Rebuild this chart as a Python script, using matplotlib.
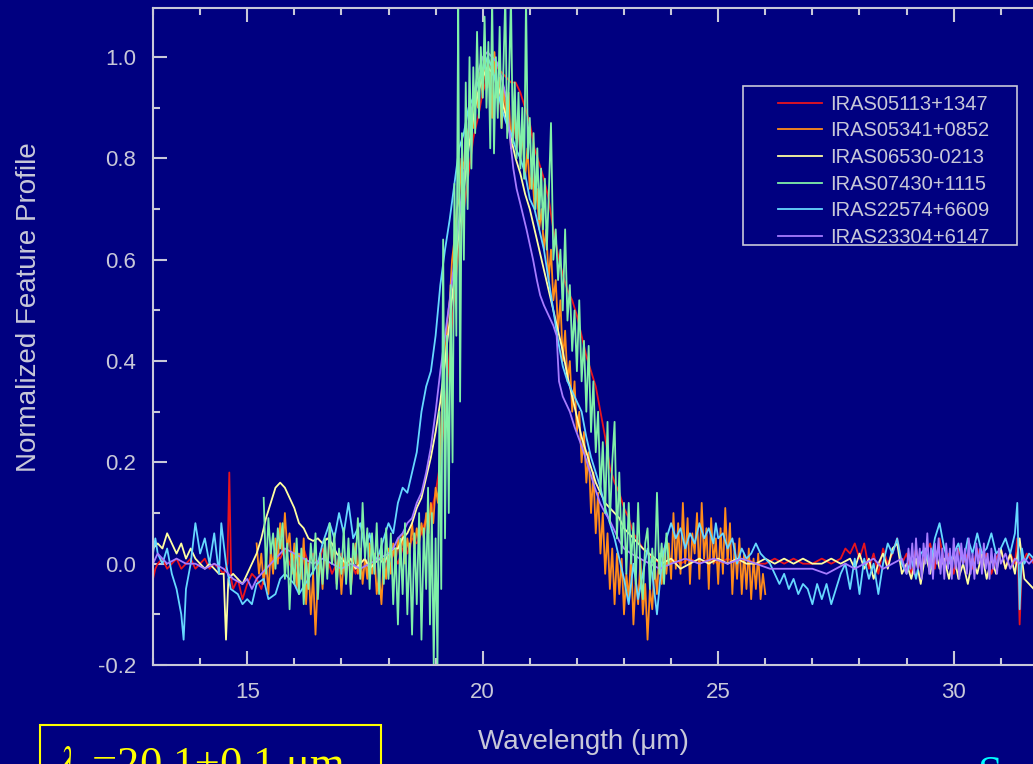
import matplotlib
matplotlib.use('Agg')
import matplotlib.pyplot as plt
from matplotlib.ticker import MultipleLocator
from matplotlib.patches import Rectangle

plt.rcParams['font.family'] = ['Liberation Sans', 'DejaVu Sans']
plt.rcParams['axes.unicode_minus'] = False
plt.rcParams['mathtext.fontset'] = 'stix'

NAVY = '#000080'
GRAY = '#c8c8d8'

# IRAS05113+1347
red_wl = [13.00, 13.05, 13.10, 13.20, 13.30, 13.40, 13.50, 13.60, 13.70, 13.80, 13.90, 14.00,
          14.10, 14.20, 14.30, 14.40, 14.50, 14.58, 14.62, 14.66, 14.70, 14.80, 14.90, 15.00,
          15.10, 15.20, 15.30, 15.40, 15.50, 15.60, 15.70, 15.80, 15.90, 16.00, 16.10, 16.20,
          16.30, 16.40, 16.50, 16.60, 16.70, 16.80, 16.90, 17.00, 17.10, 17.20, 17.30, 17.40,
          17.50, 17.60, 17.70, 17.80, 17.90, 18.00, 18.10, 18.20, 18.30, 18.40, 18.50, 18.60,
          18.70, 18.80, 18.90, 19.00, 19.10, 19.20, 19.30, 19.40, 19.50, 19.60, 19.70, 19.80,
          19.90, 20.00, 20.10, 20.20, 20.30, 20.40, 20.50, 20.60, 20.70, 20.80, 20.90, 21.00,
          21.10, 21.20, 21.30, 21.40, 21.50, 21.60, 21.70, 21.80, 21.90, 22.00, 22.10, 22.20,
          22.30, 22.40, 22.50, 22.60, 22.70, 22.80, 22.90, 23.00, 23.10, 23.20, 23.30, 23.40,
          23.50, 23.60, 23.80, 24.00, 24.20, 24.40, 24.60, 24.80, 25.00, 25.20, 25.40, 25.60,
          25.80, 26.00, 26.20, 26.40, 26.60, 26.80, 27.00, 27.20, 27.40, 27.60, 27.70, 27.80,
          27.90, 28.00, 28.10, 28.20, 28.30, 28.40, 28.50, 28.60, 28.70, 28.80, 28.90, 29.00,
          29.10, 29.20, 29.30, 29.40, 29.50, 29.60, 29.70, 29.80, 29.90, 30.00, 30.10, 30.20,
          30.30, 30.40, 30.50, 30.60, 30.70, 30.80, 30.90, 31.00, 31.10, 31.20, 31.30, 31.35,
          31.40, 31.45, 31.55, 31.70]
red_val = [-0.03, -0.01, 0.00, 0.01, -0.01, 0.00, 0.01, -0.01, 0.00, 0.01, -0.01, 0.00,
           0.01, -0.01, 0.00, -0.01, -0.02, 0.00, 0.18, -0.03, -0.05, -0.03, -0.07, -0.04,
           -0.02, -0.03, -0.05, -0.01, 0.00, 0.02, 0.01, 0.03, 0.00, -0.02, 0.01, 0.03,
           0.00, 0.02, -0.01, 0.03, 0.01, -0.02, 0.00, 0.02, -0.01, 0.01, -0.02, 0.00,
           0.01, -0.01, 0.00, 0.02, 0.00, 0.01, 0.02, 0.00, 0.03, 0.02, 0.05, 0.04,
           0.06, 0.09, 0.10, 0.14, 0.20, 0.30, 0.42, 0.53, 0.63, 0.70, 0.77, 0.84,
           0.88, 0.93, 0.96, 1.00, 0.98, 0.97, 0.96, 0.95, 0.95, 0.93, 0.90, 0.87,
           0.82, 0.79, 0.76, 0.72, 0.66, 0.61, 0.57, 0.54, 0.52, 0.49, 0.45, 0.41,
           0.38, 0.35, 0.30, 0.25, 0.19, 0.16, 0.14, 0.11, 0.09, 0.06, 0.045, 0.03,
           0.02, 0.01, 0.00, 0.01, 0.00, 0.01, 0.00, 0.01, 0.00, 0.01, 0.00, 0.01,
           0.00, 0.00, 0.01, 0.00, 0.01, 0.00, 0.00, 0.01, 0.00, 0.01, 0.03, 0.02,
           0.04, 0.01, 0.04, -0.01, 0.02, -0.02, 0.03, 0.00, 0.02, 0.05, 0.00, 0.02,
           -0.02, 0.03, -0.01, 0.02, 0.04, -0.01, 0.05, 0.00, 0.02, -0.02, 0.03, 0.00,
           0.02, -0.01, 0.03, 0.00, 0.02, -0.02, 0.01, 0.03, -0.01, 0.02, 0.00, 0.05,
           -0.12, 0.00, 0.02, 0.00]

# IRAS05341+0852
orange_wl = [15.20, 15.25, 15.30, 15.35, 15.40, 15.45, 15.50, 15.55, 15.60, 15.65, 15.70, 15.75,
             15.80, 15.85, 15.90, 15.95, 16.00, 16.05, 16.10, 16.15, 16.20, 16.25, 16.30, 16.35,
             16.40, 16.45, 16.50, 16.55, 16.60, 16.65, 16.70, 16.75, 16.80, 16.85, 16.90, 16.95,
             17.00, 17.05, 17.10, 17.15, 17.20, 17.25, 17.30, 17.35, 17.40, 17.45, 17.50, 17.55,
             17.60, 17.65, 17.70, 17.75, 17.80, 17.85, 17.90, 17.95, 18.00, 18.05, 18.10, 18.15,
             18.20, 18.25, 18.30, 18.35, 18.40, 18.45, 18.50, 18.55, 18.60, 18.65, 18.70, 18.75,
             18.80, 18.85, 18.90, 18.95, 19.00, 19.05, 19.10, 19.15, 19.20, 19.25, 19.30, 19.35,
             19.40, 19.45, 19.50, 19.55, 19.60, 19.65, 19.70, 19.75, 19.80, 19.85, 19.90, 19.95,
             20.00, 20.05, 20.10, 20.15, 20.20, 20.25, 20.30, 20.35, 20.40, 20.45, 20.50, 20.55,
             20.60, 20.65, 20.70, 20.75, 20.80, 20.85, 20.90, 20.95, 21.00, 21.05, 21.10, 21.15,
             21.20, 21.25, 21.30, 21.35, 21.40, 21.45, 21.50, 21.55, 21.60, 21.65, 21.70, 21.75,
             21.80, 21.85, 21.90, 21.95, 22.00, 22.05, 22.10, 22.15, 22.20, 22.25, 22.30, 22.35,
             22.40, 22.45, 22.50, 22.55, 22.60, 22.65, 22.70, 22.75, 22.80, 22.85, 22.90, 22.95,
             23.00, 23.05, 23.10, 23.15, 23.20, 23.25, 23.30, 23.35, 23.40, 23.45, 23.50, 23.55,
             23.60, 23.65, 23.70, 23.75, 23.80, 23.85, 23.90, 23.95, 24.00, 24.05, 24.10, 24.15,
             24.20, 24.25, 24.30, 24.35, 24.40, 24.45, 24.50, 24.55, 24.60, 24.65, 24.70, 24.75,
             24.80, 24.85, 24.90, 24.95, 25.00, 25.05, 25.10, 25.15, 25.20, 25.25, 25.30, 25.35,
             25.40, 25.45, 25.50, 25.55, 25.60, 25.65, 25.70, 25.75, 25.80, 25.85, 25.90, 25.95,
             26.00]
orange_val = [0.04, -0.02, 0.02, -0.04, 0.01, -0.06, 0.03, -0.02, 0.05, 0.00, 0.08, 0.02,
              0.10, 0.03, 0.06, -0.02, 0.04, -0.05, 0.02, -0.03, 0.05, -0.08, 0.00, -0.10,
              -0.02, -0.14, -0.03, 0.02, -0.05, 0.04, -0.02, 0.06, 0.00, 0.04, -0.04, 0.02,
              -0.06, 0.01, -0.03, 0.03, -0.05, 0.00, 0.04, -0.02, 0.03, -0.04, 0.01, -0.03,
              0.04, -0.02, 0.02, -0.06, -0.02, -0.08, 0.01, -0.03, 0.03, -0.02, 0.04, 0.00,
              0.05, 0.01, 0.06, 0.00, 0.05, 0.02, 0.08, 0.03, 0.07, 0.04, 0.08, 0.05,
              0.10, 0.06, 0.12, 0.08, 0.15, 0.12, 0.22, 0.35, 0.40, 0.48, 0.52, 0.60,
              0.64, 0.70, 0.72, 0.80, 0.78, 0.86, 0.84, 0.90, 0.86, 0.94, 0.90, 0.97,
              0.92, 1.00, 0.94, 0.98, 0.88, 1.01, 0.92, 0.96, 0.86, 0.94, 0.88, 0.93,
              0.82, 0.90, 0.84, 0.88, 0.80, 0.85, 0.76, 0.82, 0.74, 0.78, 0.70, 0.74,
              0.66, 0.70, 0.62, 0.66, 0.56, 0.62, 0.52, 0.56, 0.46, 0.52, 0.40, 0.46,
              0.36, 0.40, 0.30, 0.36, 0.26, 0.30, 0.20, 0.26, 0.16, 0.22, 0.10, 0.18,
              0.06, 0.14, 0.02, 0.10, -0.02, 0.06, -0.05, 0.03, -0.08, 0.02, -0.06, 0.01,
              -0.10, -0.02, -0.07, 0.02, -0.12, -0.03, -0.08, 0.01, -0.10, -0.04, -0.15, -0.05,
              -0.09, 0.00, -0.06, 0.02, -0.04, 0.03, -0.02, 0.04, -0.03, 0.10, -0.01, 0.08,
              -0.02, 0.12, 0.00, 0.09, -0.04, 0.06, 0.02, 0.10, -0.03, 0.12, 0.01, 0.07,
              -0.05, 0.09, 0.00, 0.05, -0.04, 0.07, -0.02, 0.11, 0.00, 0.08, -0.06, 0.04,
              -0.03, 0.05, -0.06, 0.02, -0.05, 0.03, -0.07, 0.01, -0.05, 0.02, -0.07, -0.02,
              -0.06]

# IRAS06530-0213
yellow_wl = [13.00, 13.10, 13.20, 13.30, 13.40, 13.50, 13.60, 13.70, 13.80, 13.90, 14.00, 14.10,
             14.20, 14.30, 14.40, 14.50, 14.55, 14.60, 14.70, 14.80, 14.90, 15.00, 15.10, 15.20,
             15.30, 15.40, 15.50, 15.60, 15.70, 15.80, 15.90, 16.00, 16.10, 16.20, 16.30, 16.40,
             16.50, 16.60, 16.70, 16.80, 16.90, 17.00, 17.10, 17.20, 17.30, 17.40, 17.50, 17.60,
             17.70, 17.80, 17.90, 18.00, 18.10, 18.20, 18.30, 18.40, 18.50, 18.60, 18.70, 18.80,
             18.90, 19.00, 19.10, 19.20, 19.30, 19.40, 19.50, 19.60, 19.70, 19.80, 19.90, 20.00,
             20.10, 20.20, 20.30, 20.40, 20.50, 20.60, 20.70, 20.80, 20.90, 21.00, 21.10, 21.20,
             21.30, 21.40, 21.50, 21.60, 21.70, 21.80, 21.90, 22.00, 22.10, 22.20, 22.30, 22.40,
             22.50, 22.60, 22.70, 22.80, 22.90, 23.00, 23.20, 23.40, 23.60, 23.80, 24.00, 24.20,
             24.40, 24.60, 24.80, 25.00, 25.20, 25.40, 25.60, 25.80, 26.00, 26.20, 26.40, 26.60,
             26.80, 27.00, 27.20, 27.40, 27.60, 27.80, 27.90, 28.00, 28.10, 28.20, 28.30, 28.40,
             28.50, 28.60, 28.70, 28.80, 28.90, 29.00, 29.10, 29.20, 29.30, 29.40, 29.50, 29.60,
             29.70, 29.80, 29.90, 30.00, 30.10, 30.20, 30.30, 30.40, 30.50, 30.60, 30.70, 30.80,
             30.90, 31.00, 31.10, 31.20, 31.30, 31.40, 31.50, 31.60, 31.70]
yellow_val = [0.03, 0.04, 0.03, 0.06, 0.04, 0.02, 0.04, 0.01, 0.03, 0.01, 0.00, -0.01,
              0.00, -0.01, -0.02, -0.02, -0.15, -0.03, -0.02, -0.03, -0.04, -0.02, 0.00, 0.02,
              0.05, 0.09, 0.12, 0.15, 0.16, 0.15, 0.13, 0.11, 0.08, 0.07, 0.05, 0.045,
              0.05, 0.04, 0.05, 0.04, 0.02, 0.01, 0.00, 0.01, -0.01, 0.00, 0.01, -0.01,
              0.00, 0.01, 0.00, 0.02, 0.03, 0.03, 0.05, 0.06, 0.08, 0.11, 0.13, 0.17,
              0.21, 0.26, 0.32, 0.40, 0.48, 0.57, 0.66, 0.74, 0.82, 0.88, 0.93, 0.96,
              0.98, 0.97, 0.95, 0.92, 0.88, 0.84, 0.80, 0.77, 0.73, 0.70, 0.66, 0.62,
              0.58, 0.54, 0.50, 0.46, 0.42, 0.37, 0.33, 0.29, 0.25, 0.22, 0.19, 0.16,
              0.14, 0.12, 0.11, 0.10, 0.09, 0.07, 0.05, 0.03, 0.015, 0.00, 0.01, -0.01,
              0.00, 0.01, 0.00, 0.01, 0.00, 0.01, 0.00, 0.00, 0.01, 0.00, 0.01, 0.00,
              0.01, 0.00, 0.00, 0.01, 0.00, 0.01, -0.01, 0.02, -0.01, 0.01, -0.03, 0.00,
              0.02, -0.01, 0.03, 0.04, -0.02, 0.00, -0.03, 0.01, -0.04, 0.02, -0.02, 0.03,
              -0.01, 0.01, -0.03, 0.02, -0.03, 0.00, -0.04, 0.01, -0.02, 0.02, -0.03, 0.01,
              -0.02, 0.03, -0.01, 0.02, -0.02, 0.05, -0.03, -0.04, -0.05]

# IRAS07430+1115
green_wl = [15.35, 15.40, 15.45, 15.50, 15.55, 15.60, 15.65, 15.70, 15.75, 15.80, 15.85, 15.90,
            15.95, 16.00, 16.05, 16.10, 16.15, 16.20, 16.25, 16.30, 16.35, 16.40, 16.45, 16.50,
            16.55, 16.60, 16.65, 16.70, 16.75, 16.80, 16.85, 16.90, 16.95, 17.00, 17.05, 17.10,
            17.15, 17.20, 17.25, 17.30, 17.35, 17.40, 17.45, 17.50, 17.55, 17.60, 17.65, 17.70,
            17.75, 17.80, 17.85, 17.90, 17.95, 18.00, 18.05, 18.10, 18.15, 18.20, 18.25, 18.30,
            18.35, 18.40, 18.45, 18.50, 18.55, 18.60, 18.65, 18.70, 18.75, 18.80,
            18.84, 18.88, 18.92, 18.96, 19.00, 19.04, 19.08, 19.12, 19.16, 19.20, 19.24, 19.28,
            19.32, 19.36, 19.40, 19.44, 19.48, 19.52, 19.56, 19.60, 19.64, 19.68, 19.72, 19.76,
            19.80, 19.84, 19.88, 19.92, 19.96, 20.00, 20.04, 20.08, 20.12, 20.16, 20.20, 20.24,
            20.28, 20.32, 20.36, 20.40, 20.44, 20.48, 20.52, 20.56, 20.60, 20.64, 20.68, 20.72,
            20.76, 20.80, 20.84, 20.88, 20.92, 20.96, 21.00, 21.04, 21.08, 21.12, 21.16, 21.20,
            21.24, 21.28, 21.32, 21.36, 21.40, 21.45, 21.50,
            21.55, 21.60, 21.65, 21.70, 21.75, 21.80, 21.85, 21.90, 21.95, 22.00, 22.05, 22.10,
            22.15, 22.20, 22.25, 22.30, 22.35, 22.40, 22.45, 22.50, 22.55, 22.60, 22.65, 22.70,
            22.75, 22.80, 22.85, 22.90, 22.95, 23.00, 23.05, 23.10, 23.15, 23.20, 23.25, 23.30,
            23.35, 23.40, 23.45, 23.50, 23.55, 23.60, 23.65, 23.70, 23.75, 23.80, 23.85, 23.90,
            23.95]
green_val = [0.13, -0.02, 0.09, 0.02, 0.06, -0.01, 0.07, 0.03, 0.08, -0.03, 0.04, -0.09,
             0.02, -0.04, 0.05, -0.06, 0.03, -0.08, 0.01, -0.05, 0.04, -0.02, 0.06, -0.07,
             0.02, -0.04, 0.05, -0.03, 0.08, 0.00, 0.06, -0.05, 0.03, -0.02, 0.07, -0.04,
             0.05, -0.06, 0.04, 0.00, 0.09, -0.03, 0.12, 0.01, 0.07, -0.05, 0.06, -0.02,
             0.08, -0.06, 0.05, -0.04, 0.07, -0.03, 0.06, -0.08, 0.03, -0.12, 0.05, -0.06,
             0.08, -0.10, 0.04, -0.14, 0.06, -0.08, 0.10, -0.15, 0.07, -0.05,
             0.15, -0.12, 0.10, -0.20, 0.05, -0.20, 0.30, -0.05, 0.64, 0.05, 0.45, 0.10,
             0.55, 0.20, 0.75, 0.45, 1.12, 0.32, 0.85, 0.60, 0.95, 0.70, 1.00, 0.78,
             0.98, 0.85, 1.05, 0.88, 1.02, 0.92, 1.08, 0.90, 1.03, 0.82, 1.12, 0.81,
             1.00, 0.88, 1.06, 0.86, 0.98, 1.12, 0.84, 0.96, 1.12, 0.83, 0.95, 0.80,
             0.93, 0.78, 0.90, 0.76, 1.12, 0.80, 0.88, 0.74, 0.85, 0.70, 0.82, 0.68,
             0.78, 0.66, 0.76, 0.62, 0.72, 0.87, 0.60,
             0.66, 0.56, 0.62, 0.50, 0.66, 0.48, 0.55, 0.42, 0.50, 0.38, 0.52, 0.36,
             0.44, 0.30, 0.43, 0.26, 0.36, 0.22, 0.30, 0.14, 0.24, 0.10, 0.28, 0.08,
             0.20, 0.28, 0.05, 0.18, 0.02, 0.12, -0.02, 0.12, 0.00, 0.08, -0.04, 0.12,
             -0.02, -0.07, 0.04, 0.07, -0.05, 0.03, -0.03, 0.14, -0.02, 0.04, -0.04, 0.06,
             0.00]

# IRAS22574+6609
cyan_wl = [13.00, 13.05, 13.10, 13.20, 13.30, 13.40, 13.50, 13.60, 13.65, 13.70, 13.80, 13.90,
           14.00, 14.10, 14.20, 14.30, 14.40, 14.45, 14.55, 14.65, 14.80, 14.90, 15.00, 15.10,
           15.20, 15.35, 15.45, 15.60, 15.70, 15.80, 16.00, 16.10, 16.30, 16.50, 16.60, 16.75,
           16.85, 16.95, 17.05, 17.15, 17.25, 17.40, 17.50, 17.60, 17.70, 17.80, 17.90, 18.00,
           18.10, 18.20, 18.30, 18.40, 18.50, 18.60, 18.70, 18.80, 18.90, 19.00, 19.10, 19.20,
           19.30, 19.40, 19.50, 19.60, 19.70, 19.80, 19.90, 20.00, 20.10, 20.20, 20.30, 20.40,
           20.50, 20.60, 20.70, 20.80, 20.90, 21.00, 21.10, 21.20, 21.30, 21.40, 21.50, 21.60,
           21.70, 21.80, 21.90, 22.00, 22.10, 22.20, 22.30, 22.40, 22.50, 22.60, 22.70, 22.80,
           22.90, 23.00, 23.10, 23.20, 23.30, 23.40, 23.50, 23.60, 23.70, 23.80, 23.90, 24.00,
           24.10, 24.20, 24.30, 24.40, 24.50, 24.60, 24.70, 24.80, 24.90, 24.95, 25.00, 25.10,
           25.20, 25.30, 25.40, 25.50, 25.60, 25.70, 25.80, 25.90, 26.00, 26.10, 26.20, 26.30,
           26.40, 26.50, 26.60, 26.70, 26.80, 26.90, 27.00, 27.10, 27.20, 27.30, 27.40, 27.50,
           27.60, 27.70, 27.80, 27.90, 28.00, 28.10, 28.20, 28.30, 28.40, 28.50, 28.60, 28.70,
           28.80, 28.90, 29.00, 29.10, 29.20, 29.30, 29.40, 29.50, 29.60, 29.70, 29.80, 29.90,
           30.00, 30.10, 30.20, 30.30, 30.40, 30.50, 30.60, 30.70, 30.80, 30.90, 31.00, 31.10,
           31.20, 31.30, 31.35, 31.40, 31.45, 31.50, 31.60, 31.70]
cyan_val = [0.02, 0.05, 0.02, 0.00, 0.03, -0.02, -0.05, -0.10, -0.15, -0.05, 0.00, 0.08,
            0.02, 0.05, 0.00, 0.06, -0.02, 0.08, 0.00, -0.05, -0.06, -0.08, -0.07, -0.08,
            -0.04, -0.03, -0.07, -0.06, -0.03, -0.02, -0.04, -0.06, -0.03, 0.00, 0.04, 0.08,
            0.05, 0.10, 0.06, 0.12, 0.05, 0.08, 0.03, 0.06, 0.00, 0.02, 0.05, 0.08,
            0.06, 0.12, 0.15, 0.14, 0.18, 0.22, 0.30, 0.35, 0.38, 0.45, 0.55, 0.62,
            0.68, 0.75, 0.82, 0.85, 0.90, 0.92, 0.95, 0.97, 1.00, 0.98, 0.94, 0.90,
            0.87, 0.85, 0.82, 0.80, 0.77, 0.72, 0.70, 0.66, 0.62, 0.56, 0.50, 0.44,
            0.39, 0.36, 0.34, 0.32, 0.30, 0.25, 0.21, 0.18, 0.15, 0.11, 0.08, 0.05,
            0.01, -0.03, -0.08, 0.00, -0.07, -0.02, 0.03, -0.02, -0.10, 0.00, 0.05, 0.08,
            0.05, 0.07, 0.03, 0.06, 0.04, 0.08, 0.05, 0.07, 0.04, 0.08, 0.05, 0.06,
            0.03, 0.05, 0.00, 0.03, 0.01, 0.02, 0.04, 0.02, 0.01, 0.00, -0.02, -0.04,
            -0.02, -0.05, -0.03, -0.06, -0.04, -0.05, -0.08, -0.04, -0.07, -0.04, -0.08, -0.05,
            -0.02, 0.00, -0.05, 0.01, -0.06, 0.01, -0.03, 0.00, -0.06, 0.00, 0.04, 0.02,
            0.05, 0.00, -0.02, 0.01, -0.03, 0.02, 0.03, -0.01, 0.05, 0.08, 0.03, 0.00,
            0.02, 0.04, 0.00, 0.05, 0.02, 0.06, 0.02, 0.03, 0.06, 0.02, 0.03, 0.05,
            0.02, 0.06, 0.12, -0.09, 0.03, 0.00, 0.02, 0.01]

# IRAS23304+6147
purple_wl = [13.00, 13.10, 13.20, 13.30, 13.50, 13.70, 13.90, 14.10, 14.30, 14.50, 14.70, 14.90,
             15.00, 15.10, 15.20, 15.40, 15.60, 15.80, 16.00, 16.20, 16.40, 16.60, 16.80, 17.00,
             17.20, 17.40, 17.60, 17.80, 18.00, 18.10, 18.20, 18.30, 18.40, 18.50, 18.60, 18.70,
             18.80, 18.90, 19.00, 19.10, 19.20, 19.30, 19.40, 19.50, 19.60, 19.70, 19.80, 19.90,
             20.00, 20.10, 20.20, 20.30, 20.40, 20.50, 20.58, 20.65, 20.72, 20.80, 20.93, 21.07,
             21.15, 21.22, 21.30, 21.40, 21.50, 21.57, 21.62, 21.70, 21.85, 21.95, 22.07, 22.18,
             22.28, 22.38, 22.49, 22.60, 22.70, 22.80, 22.90, 23.00, 23.15, 23.34, 23.55, 23.76,
             24.00, 24.30, 24.60, 24.90, 25.20, 25.50, 25.80, 26.10, 26.40, 26.70, 27.00, 27.30,
             27.50, 27.70, 27.90, 28.10, 28.30, 28.50, 28.70, 28.90, 29.00, 29.04, 29.08, 29.12,
             29.16, 29.20, 29.24, 29.28, 29.32, 29.36, 29.40, 29.44, 29.48, 29.52, 29.56, 29.60,
             29.64, 29.68, 29.72, 29.76, 29.80, 29.84, 29.88, 29.92, 29.96, 30.00, 30.04, 30.08,
             30.12, 30.16, 30.20, 30.24, 30.28, 30.32, 30.36, 30.40, 30.44, 30.48, 30.52, 30.56,
             30.60, 30.64, 30.68, 30.72, 30.76, 30.80, 30.84, 30.88, 30.92, 30.96, 31.00, 31.10,
             31.20, 31.30, 31.40, 31.50, 31.60, 31.70]
purple_val = [0.00, 0.02, 0.01, 0.00, 0.01, 0.00, 0.00, -0.01, 0.00, -0.01, -0.03, -0.04,
              -0.03, -0.05, -0.03, -0.01, 0.01, 0.03, 0.02, 0.01, 0.00, 0.01, 0.00, -0.01,
              0.00, -0.01, 0.00, 0.01, 0.02, 0.03, 0.05, 0.06, 0.08, 0.09, 0.12, 0.14,
              0.18, 0.23, 0.30, 0.38, 0.45, 0.52, 0.60, 0.68, 0.77, 0.85, 0.92, 0.97,
              1.00, 1.01, 1.00, 0.99, 0.96, 0.92, 0.84, 0.78, 0.74, 0.71, 0.66, 0.60,
              0.56, 0.53, 0.51, 0.49, 0.47, 0.45, 0.36, 0.33, 0.30, 0.27, 0.24, 0.21,
              0.18, 0.15, 0.12, 0.10, 0.085, 0.065, 0.045, 0.03, 0.02, 0.01, 0.00, -0.01,
              0.00, 0.01, 0.00, 0.01, 0.00, 0.01, 0.00, -0.01, -0.01, -0.01, -0.01, -0.02,
              -0.01, 0.00, -0.01, 0.00, 0.01, -0.01, 0.00, 0.01, -0.02, 0.03, -0.01, 0.04,
              -0.02, 0.05, -0.01, 0.03, -0.03, 0.04, 0.00, 0.06, -0.02, 0.03, -0.03, 0.04,
              0.00, 0.05, -0.02, 0.03, -0.03, 0.04, -0.01, 0.03, -0.03, 0.05, -0.01, 0.03,
              -0.03, 0.04, 0.00, 0.03, -0.02, 0.05, -0.02, 0.02, -0.03, 0.04, 0.00, 0.03,
              -0.02, 0.04, -0.01, 0.02, -0.03, 0.03, -0.01, 0.02, -0.02, 0.03, 0.00, 0.02,
              -0.01, 0.01, 0.00, 0.01, 0.00, 0.01]

names = ['IRAS05113+1347', 'IRAS05341+0852', 'IRAS06530-0213',
         'IRAS07430+1115', 'IRAS22574+6609', 'IRAS23304+6147']
colors = ['#e8141e', '#ff8c1a', '#ffffa0', '#80f0a8', '#66d8ff', '#a77cff']

fig = plt.figure(figsize=(10.33, 7.64), dpi=100, facecolor=NAVY)
ax = fig.add_axes([153 / 1033, 99 / 764, 942 / 1033, 657 / 764])
ax.set_facecolor(NAVY)

series = [(red_wl, red_val), (orange_wl, orange_val), (yellow_wl, yellow_val),
          (green_wl, green_val), (cyan_wl, cyan_val), (purple_wl, purple_val)]
draw_order = [0, 1, 2, 4, 5, 3]
handles = [None] * 6
for i in draw_order:
    wl, val = series[i]
    line, = ax.plot(wl, val, color=colors[i], lw=1.3, label=names[i])
    handles[i] = line

ax.set_xlim(13, 33)
ax.set_ylim(-0.2, 1.097)
ax.xaxis.set_major_locator(MultipleLocator(5))
ax.xaxis.set_minor_locator(MultipleLocator(1))
ax.yaxis.set_major_locator(MultipleLocator(0.2))
ax.yaxis.set_minor_locator(MultipleLocator(0.1))
ax.yaxis.set_major_formatter(plt.FormatStrFormatter('%.1f'))
ax.tick_params(which='both', direction='in', top=True, right=True,
               color=GRAY, labelcolor=GRAY, width=1.5)
ax.tick_params(which='major', length=10, labelsize=16, pad=12)
ax.tick_params(which='minor', length=5)
for sp in ax.spines.values():
    sp.set_color(GRAY)
    sp.set_linewidth(1.5)

fig.text(583 / 1033, 1 - 742 / 764, 'Wavelength (μm)', color=GRAY, fontsize=20,
         ha='center', va='center')
fig.text(29 / 1033, 1 - 307 / 764, 'Normalized Feature Profile', color=GRAY,
         fontsize=20, rotation=90, ha='center', va='center')

# legend frame drawn separately
ax.add_patch(Rectangle((0.626, 0.639), 0.291, 0.242, transform=ax.transAxes,
                       fill=False, edgecolor=GRAY, lw=1.2, zorder=5))
leg = ax.legend(handles=handles, loc='upper left', bbox_to_anchor=(0.6635, 0.868),
                frameon=False, fontsize=14.5, handlelength=2.2, handletextpad=0.4,
                labelspacing=0.38, borderpad=0, borderaxespad=0)
for t in leg.get_texts():
    t.set_color(GRAY)

# annotations at the bottom, partly cut off by the frame edge
fig.add_artist(Rectangle((40 / 1033, -0.1), 341 / 1033, 0.1 + 39 / 764,
                         transform=fig.transFigure, fill=False, edgecolor='#ffff00', lw=1.5))
fig.text(55 / 1033, -13 / 764, r'$\lambda_{\rm c}$=20.1±0.1 μm', color='#ffff00',
         fontsize=32, family='Liberation Serif', va='baseline')
fig.text(978 / 1033, -22 / 764, 'S', color='#00ffff', fontsize=32,
         family='Liberation Serif', va='baseline')

fig.savefig('out.png', dpi=100, facecolor=NAVY)
